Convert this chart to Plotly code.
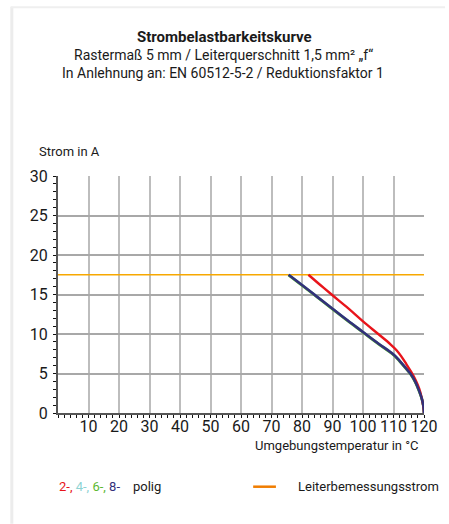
import plotly.graph_objects as go

# ---- data ----
temp_2pol = [82.1, 86, 90, 95, 100, 105, 109, 111, 112.5, 114.2, 115.8, 117.2, 118.4, 119.2, 119.7, 120]
strom_2pol = [17.5, 16.2, 14.9, 13.3, 11.6, 10.0, 8.7, 7.95, 7.2, 6.2, 5.2, 4.2, 3.1, 2.0, 1.0, 0]

temp_4pol = [75.6, 80, 85, 90, 95, 100, 105, 110, 112, 114, 115.7, 117.2, 118.4, 119.3, 119.8, 120]
strom_4pol = [17.5, 16.2, 14.7, 13.2, 11.7, 10.25, 8.8, 7.4, 6.6, 5.7, 4.9, 3.9, 2.8, 1.8, 0.9, 0]
temp_6pol = temp_4pol
strom_6pol = [17.45, 16.15, 14.65, 13.15, 11.65, 10.2, 8.75, 7.35, 6.55, 5.65, 4.85, 3.85, 2.75, 1.75, 0.85, 0]
temp_8pol = temp_4pol
strom_8pol = strom_4pol

bemessung_x = [0, 120]
bemessung_y = [17.5, 17.5]

x_ticks = [10, 20, 30, 40, 50, 60, 70, 80, 90, 100, 110, 120]
y_ticks = [0, 5, 10, 15, 20, 25, 30]

FONT = "Roboto"
TICKFONT = "Liberation Sans Narrow, Roboto"
TXT = "#1a1a1a"

fig = go.Figure()
fig.add_trace(go.Scatter(x=bemessung_x, y=bemessung_y, mode="lines",
                         line=dict(color="#f7a800", width=1.5), hoverinfo="skip"))
fig.add_trace(go.Scatter(x=temp_4pol, y=strom_4pol, mode="lines",
                         line=dict(color="#7fcfd0", width=2.6, shape="spline")))
fig.add_trace(go.Scatter(x=temp_6pol, y=strom_6pol, mode="lines",
                         line=dict(color="#5cb832", width=2.6, shape="spline")))
fig.add_trace(go.Scatter(x=temp_2pol, y=strom_2pol, mode="lines",
                         line=dict(color="#e8141b", width=2.4, shape="spline")))
fig.add_trace(go.Scatter(x=temp_8pol, y=strom_8pol, mode="lines",
                         line=dict(color="#33307a", width=2.6, shape="spline")))

L, R, T, B = 57.7, 427.7, 176.3, 413.3
W, H = 449, 524
pw, ph = R - L, B - T

def px(x):
    return (x - L) / pw

def py(y):
    return (B - y) / ph

annotations = [
    dict(text="<b>Strombelastbarkeitskurve</b>", x=px(226), y=py(37), font=dict(size=15, color=TXT)),
    dict(text="Rastermaß 5 mm / Leiterquerschnitt 1,5 mm² „f“", x=px(225), y=py(55), font=dict(size=14, color=TXT)),
    dict(text="In Anlehnung an: EN 60512-5-2 / Reduktionsfaktor 1", x=px(225), y=py(73), font=dict(size=14, color=TXT)),
    dict(text="Strom in A", x=px(36), y=py(152), xanchor="left", font=dict(size=13, color=TXT)),
    dict(text="Umgebungstemperatur in °C", x=px(425), y=py(446), xanchor="right", font=dict(size=13, color=TXT)),
    dict(text=("<span style='color:#e8141b'>2-,</span> "
               "<span style='color:#8dd3d3'>4-,</span> "
               "<span style='color:#5cb832'>6-,</span> "
               "<span style='color:#33307a'>8-</span>&nbsp;&nbsp;&nbsp; polig"),
         x=px(57), y=py(487), xanchor="left", font=dict(size=13, color=TXT)),
    dict(text="Leiterbemessungsstrom", x=px(298), y=py(487), xanchor="left", font=dict(size=13, color=TXT)),
]
for a in annotations:
    a.update(xref="paper", yref="paper", showarrow=False)
    a.setdefault("xanchor", "center")
    a["yanchor"] = "middle"

shapes = [
    dict(type="line", xref="paper", yref="paper", x0=px(255), x1=px(278), y0=py(487), y1=py(487),
         line=dict(color="#f07d00", width=2.5)),
    dict(type="line", xref="paper", yref="paper", x0=px(11), x1=px(11), y0=py(7), y1=py(524),
         line=dict(color="#ececec", width=3)),
    dict(type="line", xref="paper", yref="paper", x0=px(10), x1=px(449), y0=py(7.5), y1=py(7.5),
         line=dict(color="#efefef", width=2)),
]

fig.update_layout(
    width=W, height=H,
    margin=dict(l=L, r=W - R, t=T, b=H - B, pad=0),
    paper_bgcolor="white", plot_bgcolor="white",
    showlegend=False,
    font=dict(family=FONT, size=14, color=TXT),
    annotations=annotations, shapes=shapes,
)
fig.update_xaxes(range=[0, 120], tickvals=x_ticks, ticktext=[str(v) for v in x_ticks],
                 showgrid=True, gridcolor="#bdbdbd", gridwidth=1.5,
                 showline=True, linecolor="#555555", linewidth=2,
                 ticks="", zeroline=False, ticklabelstandoff=-2,
                 minor=dict(dtick=2, tick0=0, ticks="outside", ticklen=3, tickcolor="#111", tickwidth=1, showgrid=False),
                 tickfont=dict(family=TICKFONT, size=16, color=TXT))
fig.update_yaxes(range=[0, 30], tickvals=y_ticks, ticktext=[str(v) for v in y_ticks],
                 showgrid=True, gridcolor="#a8a8a8", gridwidth=1.5,
                 showline=True, linecolor="#555555", linewidth=2,
                 ticks="", zeroline=False, ticklabelstandoff=5,
                 minor=dict(dtick=1, tick0=0, ticks="outside", ticklen=3, tickcolor="#111", tickwidth=1, showgrid=False),
                 tickfont=dict(family=TICKFONT, size=16, color=TXT))

fig.write_html("out.html", config={"displayModeBar": False},
               post_script="document.body.style.margin='0';document.body.style.overflow='hidden';")
